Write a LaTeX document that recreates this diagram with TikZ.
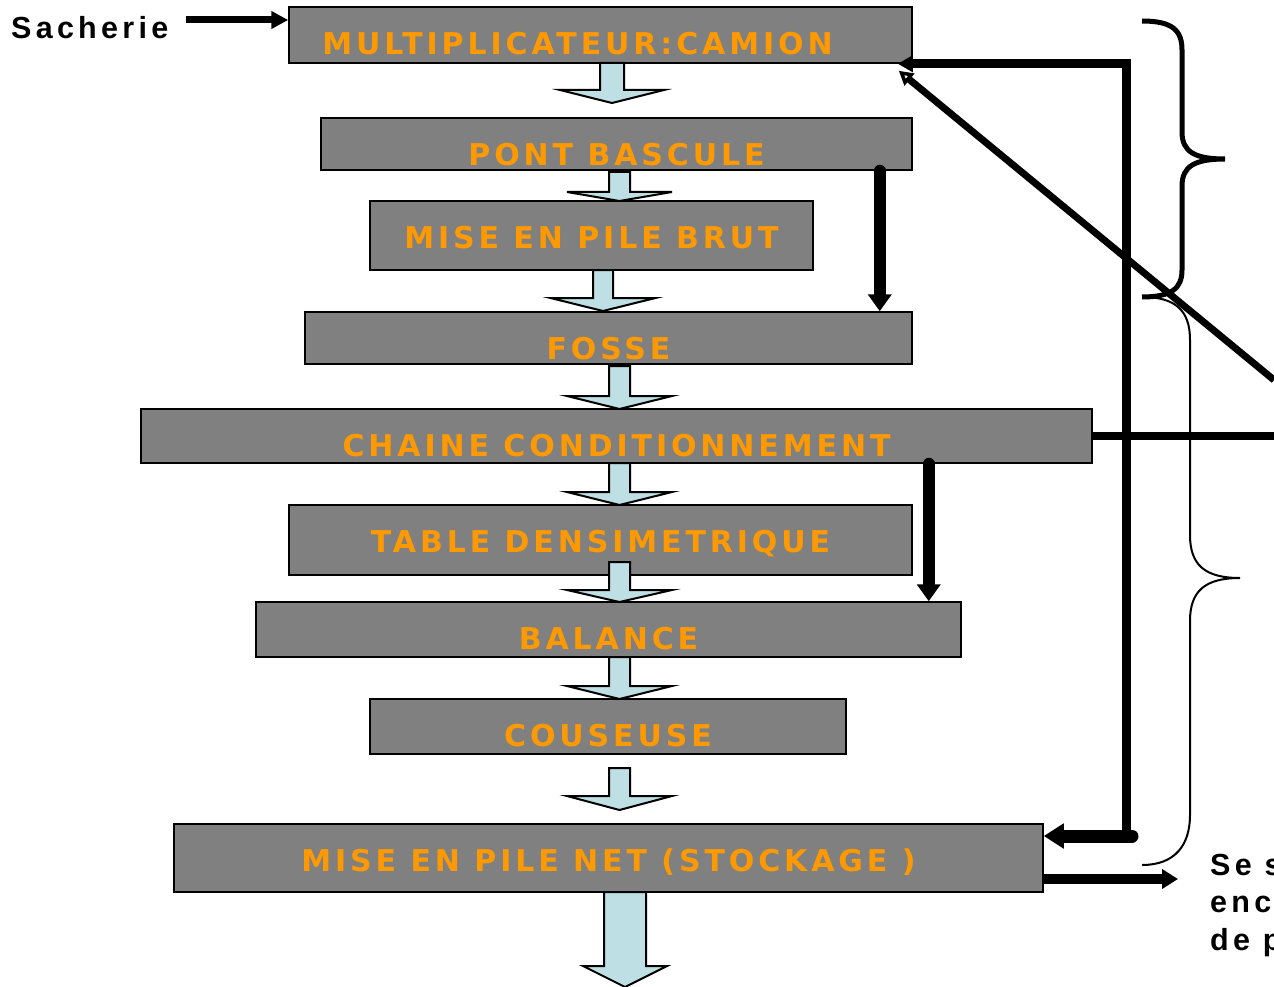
\documentclass[tikz,border=0pt]{standalone}
\usepackage{fontspec}
\usetikzlibrary{arrows.meta}
\newfontfamily\etiqfont{DejaVu Sans}[LetterSpace=13]
\newfontfamily\notefont{Liberation Sans}[LetterSpace=14]
\definecolor{gris}{HTML}{808080}
\definecolor{orangeetiq}{HTML}{FF9900}
\definecolor{bleupale}{HTML}{BEE0E4}
\tikzset{
  etape/.style 2 args={draw=black, fill=gris, line width=1.5pt, inner sep=0pt,
    minimum width=#1, minimum height=#2},
  etiq/.style={anchor=center, yshift=-37pt, inner sep=0pt, text=orangeetiq,
    text height=22pt, text depth=0pt, font=\etiqfont\bfseries\fontsize{30}{36}\selectfont},
  bloc/.style={draw=black, fill=bleupale, line width=2pt, line join=miter},
  note/.style={inner sep=0pt, anchor=base west, font=\notefont\bfseries\fontsize{30.5}{36}\selectfont},
  grosse/.style={line width=12pt, line cap=round, -{Triangle[length=17pt,width=23pt]}},
}
% fleche large : x centre, haut, debut pointe, bout, demi-tige, demi-pointe
\newcommand{\flechebloc}[6]{%
  \draw[bloc] (#1-#5,#2) -- (#1+#5,#2) -- (#1+#5,#3) -- (#1+#6,#3) -- (#1,#4)
    -- (#1-#6,#3) -- (#1-#5,#3) -- cycle;}

\begin{document}
\begin{tikzpicture}[x=1pt,y=-1pt]
\useasboundingbox (0,0) rectangle (1274,987);

% etapes
\node[etape={623pt}{56pt}, label={[etiq,xshift=-23pt]north:{MULTIPLICATEUR:CAMION}}] (camion) at (600.5,35) {};
\node[etape={591pt}{52pt}, label={[etiq]north:{PONT BASCULE}}] (pont) at (616.5,144) {};
\node[etape={443pt}{69pt}, label={[etiq]north:{MISE EN PILE BRUT}}] (brut) at (591.5,235.5) {};
\node[etape={607pt}{52pt}, label={[etiq]north:{FOSSE}}] (fosse) at (608.5,338) {};
\node[etape={951pt}{54pt}, label={[etiq]north:{CHAINE CONDITIONNEMENT}}] (chaine) at (616.5,436) {};
\node[etape={623pt}{70pt}, label={[etiq]north:{TABLE DENSIMETRIQUE}}] (table) at (600.5,540) {};
\node[etape={705pt}{55pt}, label={[etiq]north:{BALANCE}}] (balance) at (608.5,629.5) {};
\node[etape={476pt}{55pt}, label={[etiq]north:{COUSEUSE}}] (couseuse) at (608,726.5) {};
\node[etape={869pt}{68pt}, label={[etiq]north:{MISE EN PILE NET (STOCKAGE )}}] (net) at (608.5,858) {};

% fleches larges
\flechebloc{612}{63}{90}{103}{12}{52}
\flechebloc{619.5}{172}{192}{201}{10.5}{52.5}
\flechebloc{603}{270}{298}{311}{10}{52.5}
\flechebloc{619.5}{366}{396}{409}{10.5}{52.5}
\flechebloc{619.5}{463}{492}{505}{10.5}{52.5}
\flechebloc{619.5}{562}{590}{602}{10.5}{52.5}
\flechebloc{619.5}{657}{686}{699}{10.5}{52.5}
\flechebloc{619.5}{768}{796}{810}{10.5}{52.5}
\flechebloc{625}{892}{966}{987}{21}{42}

% entree
\node[note] (sacherie) at (11,38.5) {Sacherie};
\coordinate (sdep) at (186,20);
\draw[line width=7pt, -{Triangle[length=17pt,width=17pt]}] (sdep) -- (sdep -| camion.west);

% derivations
\draw[grosse] ([xshift=-33pt]pont.south east) -- ([xshift=-33pt]fosse.north east);
\draw[grosse] ([xshift=-164pt]chaine.south east) -- ([xshift=-33pt]balance.north east);

% retour
\coordinate (coin) at (1126,836);
\draw[line width=9pt, -{Triangle[length=15pt,width=16pt]}] (coin) -- (coin |- camion.south east)
  -- ([xshift=-15pt]camion.south east);
\draw[line width=13pt, line cap=round, -{Triangle[length=20pt,width=24pt]}] ([xshift=6pt]coin)
  -- ([yshift=22pt]net.east);
\coordinate (bordA) at (1274,380);
\draw[line width=7pt, -{Triangle[open,fill=white,length=14pt,width=15pt]}] (bordA)
  -- ([xshift=-14pt,yshift=-7pt]camion.south east);
\coordinate (bordB) at (1274,436);
\draw[line width=8pt] (chaine.east) -- (bordB);
\coordinate (sortie) at (1178,879);
\draw[line width=10pt, -{Triangle[length=16pt,width=19pt]}] ([yshift=-21pt]net.east) -- (sortie);

% accolades
\draw[line width=5pt] (1142,21) .. controls (1172,21) and (1182,30) .. (1182,50) -- (1182,132)
  .. controls (1182,152) and (1195,159) .. (1225,159) .. controls (1195,159) and (1182,166) .. (1182,186)
  -- (1182,270) .. controls (1182,288) and (1172,297) .. (1142,297);
\draw[line width=2pt] (1142,297) .. controls (1175,297) and (1190,310) .. (1190,340) -- (1190,535)
  .. controls (1190,565) and (1205,578) .. (1240,578) .. controls (1205,578) and (1190,591) .. (1190,621)
  -- (1190,815) .. controls (1190,845) and (1175,865) .. (1142,865);

% texte coupe
\node[note] (note1) at (1210,875) {Se s};
\node[note] (note2) at (1210,912.5) {enc};
\node[note] (note3) at (1210,950) {de p};
\end{tikzpicture}
\end{document}
